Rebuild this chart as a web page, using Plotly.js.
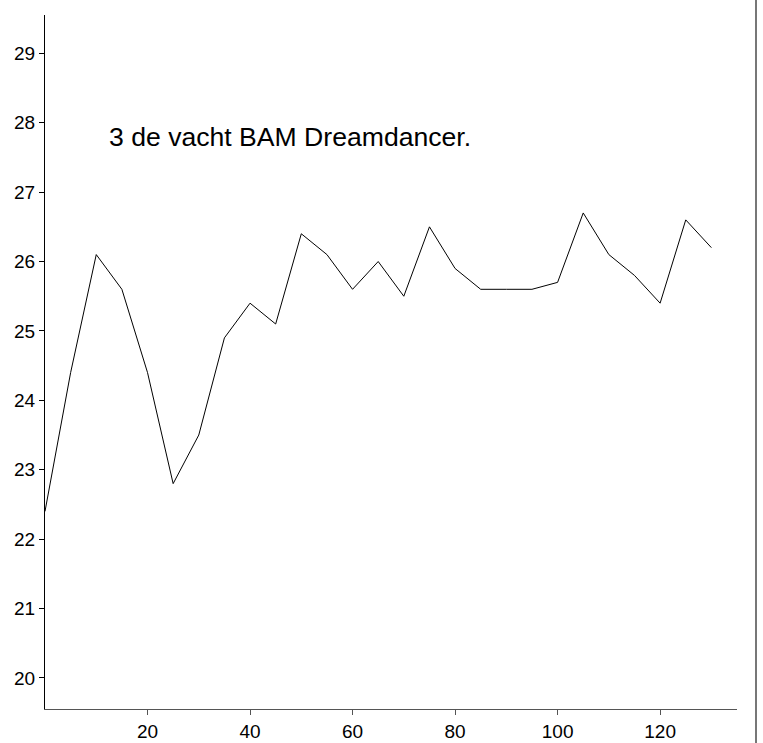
<!DOCTYPE html>
<html>
<head>
<meta charset="utf-8">
<script src="https://cdn.plot.ly/plotly-3.0.1.min.js"></script>
<style>html,body{margin:0;padding:0;background:#fff;}#chart{width:763px;height:743px;}</style>
</head>
<body>
<div id="chart"></div>
<script>
const xValues = [0,5,10,15,20,25,30,35,40,45,50,55,60,65,70,75,80,85,90,95,100,105,110,115,120,125,130];
const yValues = [22.4,24.4,26.1,25.6,24.4,22.8,23.5,24.9,25.4,25.1,26.4,26.1,25.6,26.0,25.5,26.5,25.9,25.6,25.6,25.6,25.7,26.7,26.1,25.8,25.4,26.6,26.2];
const xTicks = [20,40,60,80,100,120];
const yTicks = [20,21,22,23,24,25,26,27,28,29];
const noteText = "3 de vacht BAM Dreamdancer.";

const trace = {
  x: xValues, y: yValues, type: 'scatter', mode: 'lines',
  line: {color: '#000', width: 1}, hoverinfo: 'skip', cliponaxis: false
};

const layout = {
  width: 763, height: 743,
  margin: {l: 45, r: 26, t: 15, b: 34},
  paper_bgcolor: '#fff', plot_bgcolor: '#fff',
  showlegend: false,
  font: {family: '"Liberation Sans", Arial, Helvetica, sans-serif', color: '#000', size: 19},
  xaxis: {
    range: [0, 135], tickvals: xTicks, ticktext: xTicks.map(String),
    showgrid: false, zeroline: false, showline: true, linecolor: '#555', linewidth: 1,
    ticks: 'outside', ticklen: 5, tickcolor: '#555', tickfont: {size: 19}, fixedrange: true
  },
  yaxis: {
    range: [19.553, 29.552], tickvals: yTicks, ticktext: yTicks.map(String),
    showgrid: false, zeroline: false, showline: true, linecolor: '#000', linewidth: 1,
    ticks: 'outside', ticklen: 5, tickcolor: '#000', tickfont: {size: 19}, fixedrange: true
  },
  annotations: [{
    x: 12.0, y: 27.79, xref: 'x', yref: 'y', xanchor: 'left', yanchor: 'middle',
    text: noteText, showarrow: false, font: {size: 26.6, color: '#000'}
  }],
  shapes: [{
    type: 'line', xref: 'paper', yref: 'paper',
    x0: (756 - 45) / 692, x1: (756 - 45) / 692, y0: -34 / 694, y1: 709 / 694,
    line: {color: '#777', width: 2}
  }]
};

Plotly.newPlot('chart', [trace], layout, {displayModeBar: false, staticPlot: true});
</script>
</body>
</html>
